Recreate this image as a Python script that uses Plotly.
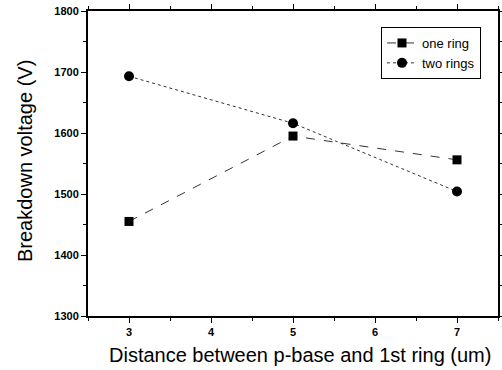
import plotly.graph_objects as go

x_vals = [3, 5, 7]
one_ring = [1455, 1595, 1556]
two_rings = [1693, 1616, 1504]
x_ticks = [3, 4, 5, 6, 7]
y_ticks = [1300, 1400, 1500, 1600, 1700, 1800]

FONT = "Liberation Sans, Arial, sans-serif"
W, H = 502, 370
PL, PR, PT, PB = 88, 498, 11, 316  # plot area in screen pixels
PW, PH = PR - PL, PB - PT

fig = go.Figure()
fig.add_trace(go.Scatter(x=x_vals, y=one_ring, name="one ring", mode="lines+markers",
                         line=dict(color="#333", width=1, dash="dash"),
                         marker=dict(symbol="square", size=9, color="black")))
fig.add_trace(go.Scatter(x=x_vals, y=two_rings, name="two rings", mode="lines+markers",
                         line=dict(color="#333", width=1, dash="dot"),
                         marker=dict(symbol="circle", size=10, color="black")))

axis_common = dict(showline=True, linecolor="black", linewidth=2, mirror="ticks",
                   ticks="outside", ticklen=5, tickwidth=1, tickcolor="black",
                   showgrid=False, zeroline=False, automargin=False,
                   tickfont=dict(family=FONT, size=11, color="black", weight="bold"))

fig.update_xaxes(range=[2.5, 7.5], tickvals=x_ticks,
                 minor=dict(dtick=0.5, ticks="outside", ticklen=3, tickcolor="black"),
                 **axis_common)
fig.update_yaxes(range=[1300, 1800], tickvals=y_ticks,
                 minor=dict(dtick=50, ticks="outside", ticklen=3, tickcolor="black"),
                 **axis_common)

fig.add_annotation(text="Distance between p-base and 1st ring (um)",
                   xref="paper", yref="paper", x=(300 - PL) / PW, y=-(355 - PB) / PH,
                   xanchor="center", yanchor="middle", showarrow=False,
                   font=dict(family=FONT, size=20, color="black"))
fig.add_annotation(text="Breakdown voltage (V)", textangle=-90,
                   xref="paper", yref="paper", x=-(PL - 25) / PW, y=(PB - 161) / PH,
                   xanchor="center", yanchor="middle", showarrow=False,
                   font=dict(family=FONT, size=20, color="black"))

fig.update_layout(
    width=W, height=H,
    margin=dict(l=PL, r=W - PR, t=PT, b=H - PB),
    paper_bgcolor="white", plot_bgcolor="white",
    legend=dict(x=(381 - PL) / PW, y=(PB - 27) / PH, xanchor="left", yanchor="top",
                bordercolor="black", borderwidth=1, bgcolor="white",
                font=dict(family=FONT, size=13, color="black"),
                tracegroupgap=0, itemwidth=30),
    showlegend=True,
)

fig.write_html("out.html", config={"displayModeBar": False},
               post_script="document.body.style.margin='0';document.body.style.padding='0';")
